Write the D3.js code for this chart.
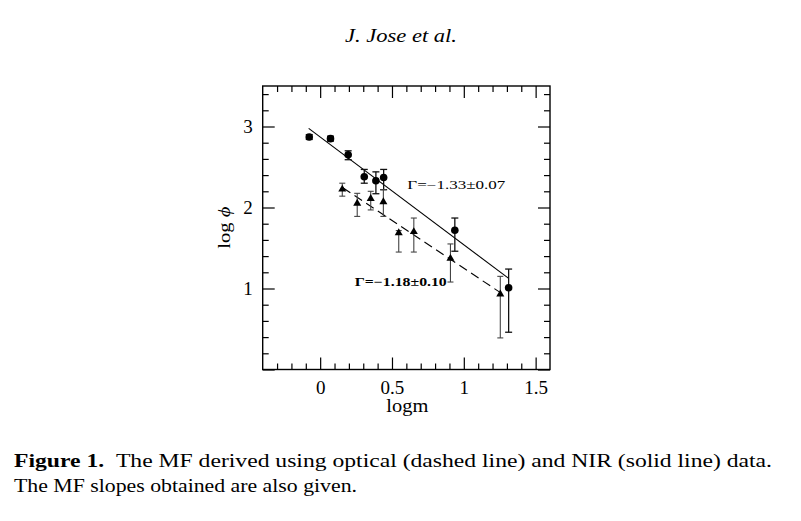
<!DOCTYPE html>
<html>
<head>
<meta charset="utf-8">
<script src="https://cdn.jsdelivr.net/npm/d3@7"></script>
<style>
body { margin: 0; background: #fff; }
text { font-family: "Liberation Serif", "DejaVu Serif", serif; fill: #000; }
</style>
</head>
<body>
<div id="chart"></div>
<script>
// NIR data (circles, solid fit)
var nirLogm   = [-0.076, 0.072, 0.195, 0.307, 0.388, 0.442, 0.9375, 1.312];
var nirLogPhi = [2.87, 2.85, 2.65, 2.38, 2.33, 2.37, 1.72, 1.01];
var nirErrUp  = [0.03, 0.03, 0.05, 0.09, 0.11, 0.10, 0.15, 0.23];
var nirErrDn  = [0.03, 0.03, 0.06, 0.08, 0.16, 0.15, 0.26, 0.55];

// optical data (triangles, dashed fit)
var optLogm   = [0.154, 0.258, 0.352, 0.44, 0.547, 0.652, 0.907, 1.254];
var optLogPhi = [2.225, 2.05, 2.11, 2.07, 1.685, 1.70, 1.37, 0.93];
var optErrUp  = [0.075, 0.125, 0.09, 0.15, 0.03, 0.17, 0.18, 0.22];
var optErrDn  = [0.085, 0.16, 0.14, 0.18, 0.235, 0.25, 0.29, 0.54];

// fitted slopes: [NIR, optical]
var fitSlope     = [-1.33, -1.18];
var fitIntercept = [2.87, 2.43];
var fitFrom      = [-0.08, 0.158];
var fitTo        = [1.31, 1.255];
var fitLabels    = ["\u0393=\u22121.33\u00b10.07", "\u0393=\u22121.18\u00b10.10"];

var xMajor = [0, 0.5, 1, 1.5];
var xTickLabels = ["0", "0.5", "1", "1.5"];
var yMajor = [0, 1, 2, 3];
var yTickLabels = ["1", "2", "3"];

var margin = {left: 262.7, right: 251, top: 86, bottom: 151.5};
var width = 801 - margin.left - margin.right;
var height = 521 - margin.top - margin.bottom;

var svg = d3.select("#chart")
    .append("svg")
    .attr("width", 801)
    .attr("height", 521);

svg.append("text")
    .attr("x", 345)
    .attr("y", 42)
    .attr("font-size", "19px")
    .attr("font-style", "italic")
    .attr("textLength", 112)
    .attr("lengthAdjust", "spacingAndGlyphs")
    .text("J. Jose et al.");

var g = svg.append("g")
    .attr("transform", "translate(" + margin.left + "," + margin.top + ")");

var x = d3.scaleLinear().domain([-0.4, 1.6]).range([0, width]);
var y = d3.scaleLinear().domain([0, 3.5]).range([height, 0]);

var xMinor = d3.range(-0.3, 1.6, 0.1).filter(function(d){
    return Math.abs(d * 2 - Math.round(d * 2)) > 0.01;
});
var yMinor = d3.range(0.2, 3.5, 0.2).filter(function(d){
    return Math.abs(d - Math.round(d)) > 0.01;
});

function noLabel(){ return ""; }

// minor ticks on all four sides
g.append("g").attr("transform", "translate(0," + height + ")")
    .call(d3.axisBottom(x).tickValues(xMinor).tickSize(-6).tickFormat(noLabel));
g.append("g")
    .call(d3.axisTop(x).tickValues(xMinor).tickSize(-6).tickFormat(noLabel));
g.append("g")
    .call(d3.axisLeft(y).tickValues(yMinor).tickSize(-6).tickFormat(noLabel));
g.append("g").attr("transform", "translate(" + width + ",0)")
    .call(d3.axisRight(y).tickValues(yMinor).tickSize(-6).tickFormat(noLabel));

// major ticks
g.append("g").attr("class", "x axis").attr("transform", "translate(0," + height + ")")
    .call(d3.axisBottom(x).tickValues(xMajor).tickSize(-12).tickPadding(11)
        .tickFormat(function(d, i){ return xTickLabels[i]; }));
g.append("g")
    .call(d3.axisTop(x).tickValues(xMajor).tickSize(-12).tickFormat(noLabel));
g.append("g").attr("class", "y axis")
    .call(d3.axisLeft(y).tickValues(yMajor).tickSize(-12).tickPadding(10)
        .tickFormat(function(d){
            return d === 0 ? "" : yTickLabels[d - 1];
        }));
g.append("g").attr("transform", "translate(" + width + ",0)")
    .call(d3.axisRight(y).tickValues(yMajor).tickSize(-12).tickFormat(noLabel));

g.selectAll(".domain").remove();
g.selectAll(".tick line").attr("stroke", "#000").attr("stroke-width", 1.2);
g.selectAll(".tick text")
    .attr("font-family", "Liberation Serif, serif")
    .attr("font-size", "19px");

g.append("rect")
    .attr("width", width)
    .attr("height", height)
    .attr("fill", "none")
    .attr("stroke", "#000")
    .attr("stroke-width", 1.4);

// axis labels
g.append("text")
    .attr("x", width / 2 + 1)
    .attr("y", height + 42)
    .attr("text-anchor", "middle")
    .attr("font-size", "18px")
    .attr("textLength", 42)
    .attr("lengthAdjust", "spacingAndGlyphs")
    .text("logm");

var ylab = g.append("text")
    .attr("transform", "rotate(-90)")
    .attr("x", -(height / 2) - 21)
    .attr("y", -33)
    .attr("font-size", "17px")
    .attr("textLength", 42)
    .attr("lengthAdjust", "spacingAndGlyphs");
ylab.append("tspan").text("log ");
ylab.append("tspan").attr("font-style", "italic").text("\u03d5");

// fitted lines
var line = d3.line()
    .x(function(d){ return x(d[0]); })
    .y(function(d){ return y(d[1]); });

fitSlope.forEach(function(s, i){
    var pts = [fitFrom[i], fitTo[i]].map(function(v){
        return [v, fitIntercept[i] + s * v];
    });
    g.append("path")
        .attr("d", line(pts))
        .attr("fill", "none")
        .attr("stroke", "#000")
        .attr("stroke-width", 1.1)
        .attr("stroke-dasharray", i === 1 ? "9,5" : null);
});

// error bars
function errorBars(xs, ys, up, dn, color, sw, cap){
    var bars = g.append("g");
    xs.forEach(function(xv, i){
        var px = x(xv), top = y(ys[i] + up[i]), bot = y(ys[i] - dn[i]);
        bars.append("line").attr("x1", px).attr("x2", px).attr("y1", top).attr("y2", bot)
            .attr("stroke", color).attr("stroke-width", sw);
        bars.append("line").attr("x1", px - cap).attr("x2", px + cap).attr("y1", top).attr("y2", top)
            .attr("stroke", color).attr("stroke-width", sw);
        bars.append("line").attr("x1", px - cap).attr("x2", px + cap).attr("y1", bot).attr("y2", bot)
            .attr("stroke", color).attr("stroke-width", sw);
    });
}

errorBars(nirLogm, nirLogPhi, nirErrUp, nirErrDn, "#111", 1.3, 3.5);
errorBars(optLogm, optLogPhi, optErrUp, optErrDn, "#444", 1.1, 3);

// markers
g.selectAll("circle")
    .data(nirLogm)
    .enter()
    .append("circle")
    .attr("cx", function(d){ return x(d); })
    .attr("cy", function(d, i){ return y(nirLogPhi[i]); })
    .attr("r", 3.8)
    .attr("fill", "#000");

var tri = d3.symbol().type(d3.symbolTriangle).size(28);
g.selectAll(".tri")
    .data(optLogm)
    .enter()
    .append("path")
    .attr("class", "tri")
    .attr("d", tri)
    .attr("transform", function(d, i){
        return "translate(" + x(d) + "," + y(optLogPhi[i]) + ")";
    })
    .attr("fill", "#000");

// slope labels
var labelAt = [[0.607, 2.23], [0.241, 1.035]];
fitLabels.forEach(function(t, i){
    g.append("text")
        .attr("x", x(labelAt[i][0]))
        .attr("y", y(labelAt[i][1]))
        .attr("font-size", "12px")
        .attr("font-weight", i === 1 ? "bold" : "normal")
        .attr("textLength", i === 1 ? 92 : 98)
        .attr("lengthAdjust", "spacingAndGlyphs")
        .text(t);
});

// caption
var cap1 = svg.append("text")
    .attr("x", 14)
    .attr("y", 467)
    .attr("font-size", "18px")
    .attr("textLength", 758)
    .attr("lengthAdjust", "spacingAndGlyphs");
cap1.append("tspan").attr("font-weight", "bold").text("Figure 1.");
cap1.append("tspan").text("\u2002The MF derived using optical (dashed line) and NIR (solid line) data.");

svg.append("text")
    .attr("x", 14)
    .attr("y", 492)
    .attr("font-size", "18px")
    .attr("textLength", 343)
    .attr("lengthAdjust", "spacingAndGlyphs")
    .text("The MF slopes obtained are also given.");
</script>
</body>
</html>
